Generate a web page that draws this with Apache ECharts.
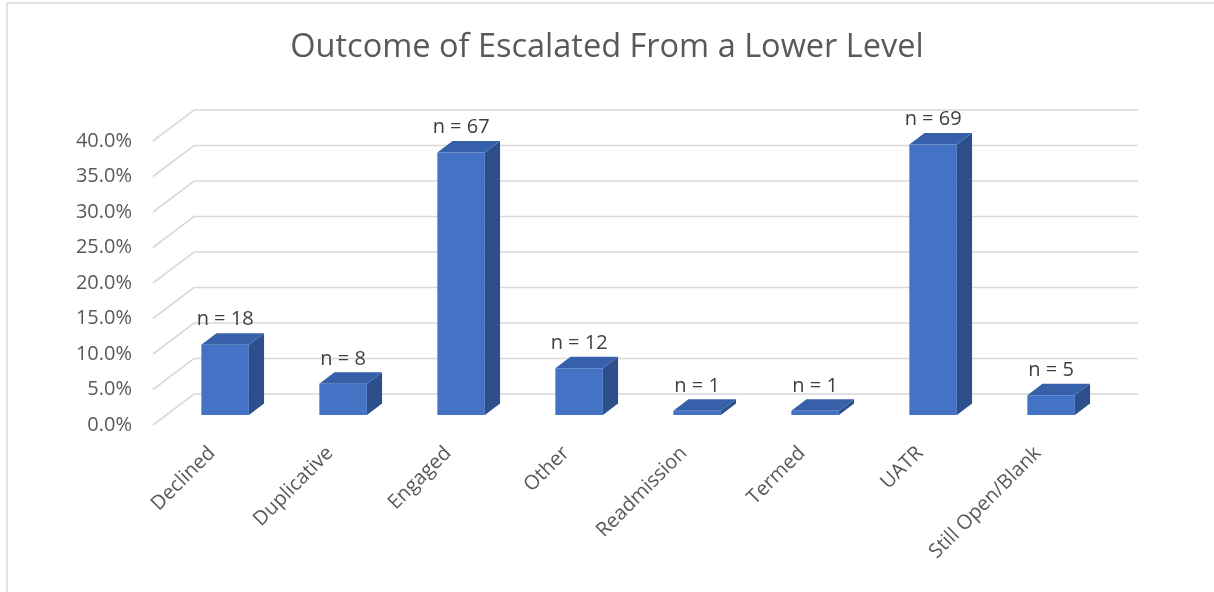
<!DOCTYPE html>
<html>
<head>
<meta charset="utf-8">
<script src="https://cdn.jsdelivr.net/npm/echarts@6/dist/echarts.min.js"></script>
<style>
  html, body { margin: 0; padding: 0; background: #ffffff; }
  #chart { width: 1214px; height: 592px; }
</style>
</head>
<body>
<div id="chart"></div>
<script>
// Outcome categories and their counts / shares of all escalations
const categories = ['Declined', 'Duplicative', 'Engaged', 'Other', 'Readmission', 'Termed', 'UATR', 'Still Open/Blank'];
const counts = [18, 8, 67, 12, 1, 1, 69, 5];
const shares = [9.9, 4.4, 37.0, 6.6, 0.6, 0.6, 38.1, 2.8];
const yTicks = [0, 5, 10, 15, 20, 25, 30, 35, 40];

// Oblique depth of the floor / walls (pixels) and bar placement in depth
const WALL_DX = 41, WALL_DY = -31;
const BAR_FRONT = 0.32;        // bar front face sits this far back into the floor
const BAR_DEPTH = 0.37;        // bar depth as a fraction of the floor depth
const BAR_WIDTH = 0.403;       // bar width as a fraction of the category band

const FONT = '"Open Sans", "Noto Sans", sans-serif';
const TEXT = '#595959';
const GRID = '#d9d9d9';
const FACE_FRONT = '#4472c4';
const FACE_SIDE = '#2d4f8c';
const FACE_TOP = '#3660a9';

const chart = echarts.init(document.getElementById('chart'), null, { renderer: 'canvas' });

// Left side wall and back wall gridline for one tick value
function renderWalls(params, api) {
  const v = api.value(1);
  const band = api.size([1, 0])[0];
  const first = api.coord([0, v]);
  const last = api.coord([categories.length - 1, v]);
  const xl = first[0] - band / 2;
  const xr = last[0] + band / 2;
  const y = first[1];
  return {
    type: 'polyline',
    shape: { points: [[xl, y], [xl + WALL_DX, y + WALL_DY], [xr + WALL_DX, y + WALL_DY]] },
    style: { stroke: GRID, lineWidth: 1.6, fill: null },
    silent: true
  };
}

// Oblique 3D column: side face, top face, front face and count label
function renderBar(params, api) {
  const idx = api.value(0);
  const val = api.value(1);
  const base = api.coord([idx, 0]);
  const top = api.coord([idx, val]);
  const band = api.size([1, 0])[0];
  const w = band * BAR_WIDTH;
  const ox = WALL_DX * BAR_FRONT, oy = WALL_DY * BAR_FRONT;
  const bx = WALL_DX * BAR_DEPTH, by = WALL_DY * BAR_DEPTH;
  const x0 = base[0] - w / 2 + ox;
  const x1 = x0 + w;
  const yb = base[1] + oy;
  const yt = top[1] + oy;
  return {
    type: 'group',
    children: [
      {
        type: 'polygon',
        shape: { points: [[x1, yb], [x1, yt], [x1 + bx, yt + by], [x1 + bx, yb + by]] },
        style: { fill: FACE_SIDE }
      },
      {
        type: 'polygon',
        shape: { points: [[x0, yt], [x1, yt], [x1 + bx, yt + by], [x0 + bx, yt + by]] },
        style: { fill: FACE_TOP }
      },
      {
        type: 'rect',
        shape: { x: x0, y: yt, width: w, height: yb - yt },
        style: { fill: FACE_FRONT }
      },
      {
        type: 'text',
        x: (x0 + x1) / 2,
        y: yt - 25,
        style: {
          text: 'n = ' + counts[idx],
          align: 'center',
          verticalAlign: 'middle',
          fill: '#404040',
          font: '20px ' + FONT
        }
      }
    ]
  };
}

chart.setOption({
  backgroundColor: '#ffffff',
  animation: false,
  title: {
    text: 'Outcome of Escalated From a Lower Level',
    left: 'center',
    top: 26,
    textStyle: { fontFamily: FONT, fontSize: 32.5, fontWeight: 'normal', color: TEXT }
  },
  graphic: [{
    type: 'rect',
    shape: { x: 7, y: 3, width: 1230, height: 620 },
    style: { fill: null, stroke: GRID, lineWidth: 1.5 },
    silent: true,
    z: -10
  }],
  grid: { left: 153, right: 117, top: 141, bottom: 167 },
  xAxis: {
    type: 'category', data: categories,
    axisLine: { show: false }, axisTick: { show: false },
    axisLabel: {
      interval: 0, rotate: 45, margin: 25,
      fontFamily: FONT, fontSize: 20, color: TEXT
    },
    splitLine: { show: false }
  },
  yAxis: {
    type: 'value', min: 0, max: 40, interval: 5,
    axisLine: { show: false }, axisTick: { show: false }, splitLine: { show: false },
    axisLabel: {
      margin: 21, fontFamily: FONT, fontSize: 20, color: TEXT,
      formatter: v => v.toFixed(1) + '%'
    }
  },
  series: [
    {
      type: 'custom',
      name: 'walls',
      z: 1,
      silent: true,
      renderItem: renderWalls,
      encode: { x: 0, y: 1 },
      data: yTicks.map(v => [0, v])
    },
    {
      type: 'custom',
      name: 'Share',
      z: 2,
      renderItem: renderBar,
      encode: { x: 0, y: 1 },
      data: shares.map((s, i) => [i, s])
    }
  ]
});
</script>
</body>
</html>
